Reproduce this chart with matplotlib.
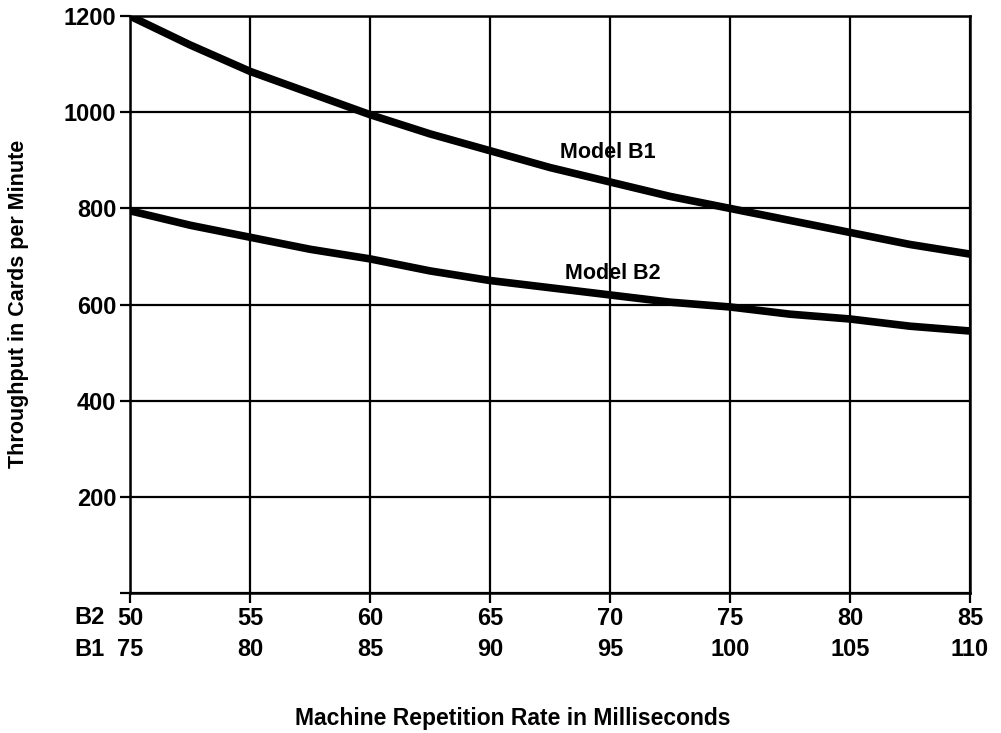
import matplotlib.pyplot as plt

plt.rcParams['font.family'] = ['Liberation Sans', 'DejaVu Sans']
plt.rcParams['font.weight'] = 'bold'

# ---- data -------------------------------------------------------------------
rate_b2 = [50, 52.5, 55, 57.5, 60, 62.5, 65, 67.5, 70, 72.5, 75, 77.5, 80, 82.5, 85]
model_b1 = [1200, 1140, 1085, 1040, 995, 955, 920, 885, 855, 825, 800, 775, 750, 725, 705]
model_b2 = [795, 765, 740, 715, 695, 670, 650, 635, 620, 605, 595, 580, 570, 555, 545]

xticks_b2 = [50, 55, 60, 65, 70, 75, 80, 85]
xticks_b1 = [75, 80, 85, 90, 95, 100, 105, 110]
yticks = [0, 200, 400, 600, 800, 1000, 1200]
ytick_labels = ["", "200", "400", "600", "800", "1000", "1200"]

# ---- plot -------------------------------------------------------------------
fig = plt.figure(figsize=(10.01, 7.33), dpi=100)
ax = fig.add_axes([0.130, 0.191, 0.839, 0.787])

ax.plot(rate_b2, model_b1, color='black', lw=5.5, solid_capstyle='butt', zorder=3)
ax.plot(rate_b2, model_b2, color='black', lw=5.5, solid_capstyle='butt', zorder=3)

ax.set_xlim(50, 85)
ax.set_ylim(0, 1200)
ax.set_xticks(xticks_b2)
ax.set_xticklabels([str(v) for v in xticks_b2])
ax.set_yticks(yticks)
ax.set_yticklabels(ytick_labels)
ax.grid(True, color='black', lw=1.6)
ax.tick_params(axis='both', length=7, width=1.6, labelsize=17, pad=3, color='black')
for s in ax.spines.values():
    s.set_linewidth(1.8)

# second row of x tick labels (Model B1 rates)
for xb2, xb1 in zip(xticks_b2, xticks_b1):
    ax.annotate(str(xb1), xy=(xb2, 0), xycoords=('data', 'axes fraction'),
                xytext=(0, -41), textcoords='offset points',
                ha='center', va='center', fontsize=17, fontweight='bold')
ax.annotate("B2", xy=(50, 0), xycoords=('data', 'axes fraction'),
            xytext=(-29, -18), textcoords='offset points',
            ha='center', va='center', fontsize=17, fontweight='bold')
ax.annotate("B1", xy=(50, 0), xycoords=('data', 'axes fraction'),
            xytext=(-29, -41), textcoords='offset points',
            ha='center', va='center', fontsize=17, fontweight='bold')

ax.text(69.9, 917, "Model B1", ha='center', va='center', fontsize=15.5, fontweight='bold')
ax.text(70.1, 665, "Model B2", ha='center', va='center', fontsize=15.5, fontweight='bold')

fig.text(0.512, 0.020, "Machine Repetition Rate in Milliseconds",
         ha='center', va='center', fontsize=16.5, fontweight='bold')
fig.text(0.018, 0.585, "Throughput in Cards per Minute", rotation=90,
         ha='center', va='center', fontsize=15.5, fontweight='bold')

fig.savefig("out.png", dpi=100)
